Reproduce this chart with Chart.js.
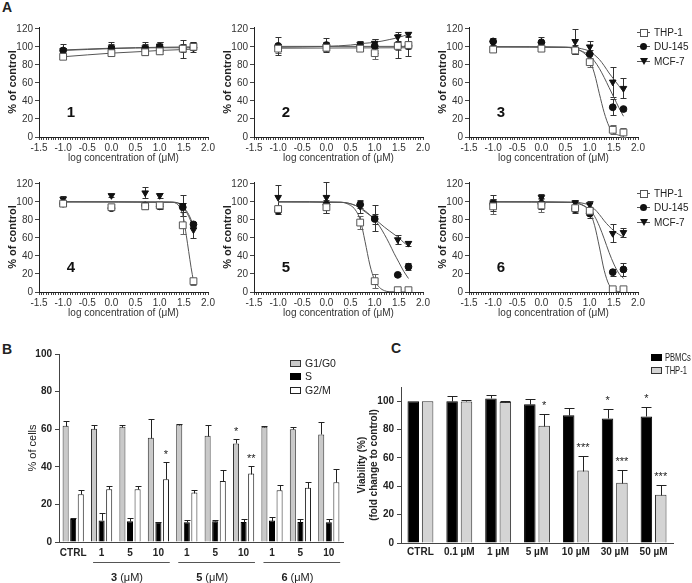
<!DOCTYPE html>
<html><head><meta charset="utf-8">
<script src="https://cdn.jsdelivr.net/npm/chart.js@4.4.1/dist/chart.umd.min.js"></script>
<style>
body{margin:0;background:#fff;width:692px;height:583px;position:relative;overflow:hidden;font-family:"Liberation Sans",Arial,sans-serif;color:#222}
canvas{position:absolute}
.plab{position:absolute;font-weight:bold;font-size:14px;line-height:14px}
.leg{position:absolute;font-size:10.5px;line-height:13px;white-space:nowrap;display:flex;align-items:center}
.sym{position:relative;width:13px;height:13px;margin-right:4px}
.sym .ln{position:absolute;left:0;top:6px;width:13px;height:1px;background:#555}
.sym .mk{position:absolute}
.box{width:11px;height:7px;margin-right:4px;box-sizing:border-box}
.narrow{display:inline-block;transform:scaleX(0.66);transform-origin:left center;font-size:11.5px}
</style></head><body>
<div class="plab" style="left:2px;top:0px">A</div>
<div class="plab" style="left:2px;top:342px">B</div>
<div class="plab" style="left:391px;top:341px">C</div>
<script>
// ---------- Panel A data ----------
const concLog = [-1, 0, 0.699, 1, 1.477, 1.699];
const seriesA = ['THP-1', 'DU-145', 'MCF-7'];

const thp1 = [89, 93, 94, 95, 98, 100];   const thp1Err = [3, 3, 3, 3, 4, 3];
const du1  = [96, 98, 98, 100, 98, 99];   const du1Err  = [7, 7, 7, 5, 10, 5];
const mcf1 = [96, 99, 99, 101, 99, 102];  const mcf1Err = [3, 4, 4, 4, 4, 3];
const thp1Fit = [[-1, 89], [0, 93], [0.7, 95], [1, 96], [1.5, 97], [1.7, 97.5]];
const du1Fit  = [[-1, 96], [0, 98], [1, 99], [1.7, 99]];
const mcf1Fit = [[-1, 96.5], [0, 98.5], [1, 99.5], [1.7, 100]];

const thp2 = [98, 99, 98, 93, 101, 102];  const thp2Err = [5, 4, 3, 6, 4, 4];
const du2  = [101, 102, 101, 101, 101, 101]; const du2Err = [10, 8, 2, 8, 13, 11];
const mcf2 = [99, 101, 103, 104, 111, 114]; const mcf2Err = [4, 4, 3, 5, 5, 3];
const thp2Fit = [[-1, 98.5], [1.7, 99]];
const du2Fit  = [[-1, 100.5], [1.7, 100.5]];
const mcf2Fit = [[-1, 99.5], [0, 100.5], [0.5, 102], [0.8, 104], [1.0, 105], [1.3, 108], [1.5, 110.5], [1.7, 114]];

const thp3 = [97, 98, 96, 83, 8, 5];      const thp3Err = [3, 3, 4, 5, 5, 5];
const du3  = [106, 105, 97, 92, 33, 31];  const du3Err  = [4, 6, 5, 5, 9, 2];
const mcf3 = [104, 103, 106, 100, 61, 54]; const mcf3Err = [3, 3, 14, 7, 17, 11];
const thp3Fit = [[-1, 100], [0.5, 99.5], [0.8, 96], [1.0, 85], [1.1, 70], [1.2, 48], [1.3, 27], [1.4, 12], [1.5, 5], [1.6, 2], [1.7, 1]];
const du3Fit  = [[-1, 100], [0.5, 99.5], [0.8, 96], [1.0, 90], [1.1, 84], [1.2, 76], [1.3, 66], [1.4, 55], [1.5, 44], [1.6, 33], [1.7, 23]];
const mcf3Fit = [[-1, 100], [0.6, 99.5], [0.9, 97], [1.0, 95], [1.1, 91], [1.2, 86], [1.3, 79], [1.4, 71], [1.5, 64], [1.6, 57], [1.7, 50]];

const thp4 = [98, 94, 95, 96, 74, 12];    const thp4Err = [3, 2, 3, 3, 10, 4];
const du4  = [98, 93, 96, 95, 94, 75];    const du4Err  = [2, 2, 4, 3, 5, 3];
const mcf4 = [103, 107, 110, 107, 96, 69]; const mcf4Err = [3, 2, 6, 3, 12, 9];
const thp4Fit = [[-1, 100], [1.2, 99.8], [1.35, 98], [1.45, 90], [1.5, 80], [1.55, 63], [1.6, 45], [1.65, 27], [1.7, 12]];
const du4Fit  = [[-1, 100], [1.3, 99.5], [1.45, 97], [1.5, 94], [1.6, 86], [1.7, 74]];
const mcf4Fit = [[-1, 100], [1.3, 99.5], [1.45, 96], [1.5, 93], [1.6, 84], [1.7, 71]];

const thp5 = [92, 94, 77, 12, 2, 2];      const thp5Err = [3, 6, 7, 8, 1, 1];
const du5  = [90, 97, 97, 81, 19, 28];    const du5Err  = [3, 5, 4, 6, 1, 4];
const mcf5 = [105, 105, 95, 82, 58, 54];  const mcf5Err = [14, 17, 7, 14, 5, 3];
const thp5Fit = [[-1, 100], [0.3, 99.5], [0.5, 96], [0.6, 91], [0.7, 80], [0.8, 56], [0.9, 30], [1.0, 13], [1.1, 5], [1.2, 1.5], [1.3, 0.3], [1.7, 0]];
const du5Fit  = [[-1, 100], [0.3, 99.5], [0.6, 96], [0.8, 90], [1.0, 80], [1.1, 73], [1.2, 64], [1.3, 54], [1.4, 43], [1.5, 33], [1.6, 23], [1.7, 15]];
const mcf5Fit = [[-1, 100], [0.3, 99.5], [0.6, 96], [0.8, 89], [1.0, 81], [1.2, 72], [1.4, 64], [1.5, 60], [1.6, 55], [1.7, 51]];

const thp6 = [95, 96, 93, 90, 3, 3];      const thp6Err = [8, 7, 4, 3, 1, 1];
const du6  = [98, 98, 92, 87, 22, 25];    const du6Err  = [5, 6, 4, 5, 4, 7];
const mcf6 = [99, 105, 99, 97, 65, 66];   const mcf6Err = [9, 4, 3, 4, 10, 5];
const thp6Fit = [[-1, 100], [0.6, 99.5], [0.9, 95], [1.0, 89], [1.1, 74], [1.2, 50], [1.3, 24], [1.4, 8], [1.5, 2], [1.6, 0.5], [1.7, 0]];
const du6Fit  = [[-1, 100], [0.6, 99.5], [0.9, 95], [1.0, 91], [1.1, 84], [1.2, 73], [1.3, 59], [1.4, 44], [1.5, 31], [1.6, 21], [1.7, 15]];
const mcf6Fit = [[-1, 100], [0.7, 99.5], [0.9, 98], [1.0, 96], [1.1, 92], [1.2, 86], [1.3, 79], [1.4, 73], [1.5, 68], [1.6, 64], [1.7, 61]];

const yTicksA = [0, 20, 40, 60, 80, 100, 120];

// ---------- Panel B data ----------
const catsB   = ['CTRL', '1', '5', '10', '1', '5', '10', '1', '5', '10'];
const g1      = [61.8, 60.2, 61.3, 55.4, 62.5, 56.5, 52.4, 61.3, 60.0, 57.2];
const g1Err   = [2.5, 2.3, 1.2, 10.0, 0.3, 5.5, 2.6, 0.5, 1.3, 6.6];
const sPhase  = [12.3, 11.5, 11.0, 10.5, 10.5, 11.0, 10.7, 11.4, 10.7, 10.5];
const sErr    = [0.4, 4.0, 1.8, 0.3, 1.2, 0.9, 1.7, 1.9, 1.7, 1.9];
const g2m     = [25.4, 28.1, 28.1, 33.4, 26.3, 32.5, 36.4, 27.5, 28.8, 31.8];
const g2mErr  = [2.0, 1.7, 1.9, 8.9, 1.2, 6.0, 3.9, 2.7, 3.0, 7.2];
const g1Sig   = ['', '', '', '', '', '', '*', '', '', ''];
const sSig    = ['', '', '', '', '', '', '', '', '', ''];
const g2mSig  = ['', '', '', '*', '', '', '**', '', '', ''];
const groupNamesB = ['3', '5', '6'];
const groupFromB  = [1, 4, 7];
const groupToB    = [3, 6, 9];
const seriesB = ['G1/G0', 'S', 'G2/M'];
const yTicksB = [0, 20, 40, 60, 80, 100];

// ---------- Panel C data ----------
const catsC   = ['CTRL', '0.1 µM', '1 µM', '5 µM', '10 µM', '30 µM', '50 µM'];
const pbmc    = [100, 100, 101.9, 97.9, 90.1, 87.8, 89.2];
const pbmcErr = [0, 3.8, 2.3, 3.5, 4.9, 6.6, 7.0];
const thpC    = [100, 99.8, 99.4, 82.6, 51.1, 42.4, 34.1];
const thpCErr = [0, 0.7, 0.4, 8.7, 10.3, 9.4, 7.1];
const pbmcSig = ['', '', '', '', '', '*', '*'];
const thpCSig = ['', '', '', '*', '***', '***', '***'];
const seriesC = ['PBMCs', 'THP-1'];
const yTicksC = [0, 20, 40, 60, 80, 100];

// ---------- helpers ----------
const F = '"Liberation Sans", Arial, sans-serif';
Chart.defaults.font.family = F;
Chart.defaults.color = '#222';
Chart.defaults.animation = false;

const errorBars = {
  id: 'errorBars',
  beforeDatasetsDraw(chart) { draw(chart, false); },
  afterDatasetsDraw(chart) { draw(chart, true); }
};
function draw(chart, after) {
  const ctx = chart.ctx, ys = chart.scales.y;
  chart.data.datasets.forEach((ds, i) => {
    if (!ds.errors || !!ds.upOnly !== after) return;
    const meta = chart.getDatasetMeta(i);
    ctx.save();
    ctx.strokeStyle = ds.errorColor || '#222';
    ctx.lineWidth = 1;
    meta.data.forEach((el, j) => {
      const e = ds.errors[j];
      if (!e) return;
      const v = ds.data[j];
      const val = (typeof v === 'object') ? v.y : v;
      const x = Math.round(el.x) + 0.5;
      const yt = Math.round(ys.getPixelForValue(val + e)) + 0.5;
      const yb = Math.round(ys.getPixelForValue(ds.upOnly ? val : val - e)) + 0.5;
      const c = (ds.capWidth || 6) / 2;
      ctx.beginPath();
      ctx.moveTo(x, yt); ctx.lineTo(x, yb);
      ctx.moveTo(x - c, yt); ctx.lineTo(x + c, yt);
      if (!ds.upOnly) { ctx.moveTo(x - c, yb); ctx.lineTo(x + c, yb); }
      ctx.stroke();
    });
    ctx.restore();
  });
}

const sigMarks = {
  id: 'sigMarks',
  afterDatasetsDraw(chart, args, opts) {
    const ctx = chart.ctx, ys = chart.scales.y;
    chart.data.datasets.forEach((ds, i) => {
      if (!ds.sig) return;
      const meta = chart.getDatasetMeta(i);
      ctx.save();
      ctx.font = '11px ' + F; ctx.fillStyle = '#222';
      ctx.textAlign = 'center'; ctx.textBaseline = 'alphabetic';
      meta.data.forEach((el, j) => {
        if (!ds.sig[j]) return;
        const top = ys.getPixelForValue(ds.data[j] + (ds.errors[j] || 0));
        ctx.fillText(ds.sig[j], el.x, top - (opts.gap || 4));
      });
      ctx.restore();
    });
  }
};

const panelNum = {
  id: 'panelNum',
  afterDraw(chart, args, opts) {
    if (!opts.text) return;
    const { ctx, chartArea: a } = chart;
    ctx.save();
    ctx.font = 'bold 15px ' + F; ctx.fillStyle = '#111';
    ctx.textAlign = 'center'; ctx.textBaseline = 'middle';
    ctx.fillText(opts.text, a.left + 32, a.bottom - 24);
    ctx.restore();
  }
};

function mkCanvas(l, t, w, h) {
  const c = document.createElement('canvas');
  c.width = w; c.height = h;
  c.style.left = l + 'px'; c.style.top = t + 'px';
  document.body.appendChild(c);
  return c;
}

function panelA(left, top, num, thp, thpE, du, duE, mcf, mcfE, thpF, duF, mcfF) {
  const cv = mkCanvas(left - 39, top - 15, 220, 160);
  const pts = ys => concLog.map((x, i) => ({ x, y: ys[i] }));
  const fit = f => f.map(p => ({ x: p[0], y: p[1] }));
  const fitDs = f => ({ data: fit(f), showLine: true, pointRadius: 0, borderColor: '#555', borderWidth: 1,
                        cubicInterpolationMode: 'monotone', tension: 0.4, fill: false });
  new Chart(cv, {
    type: 'scatter',
    data: { datasets: [
      { data: pts(thp), errors: thpE, errorColor: '#666', pointStyle: 'rect', pointRadius: 4.8,
        backgroundColor: '#fff', borderColor: '#555', borderWidth: 1 },
      { data: pts(du), errors: duE, errorColor: '#333', pointStyle: 'circle', pointRadius: 3.4,
        backgroundColor: '#111', borderColor: '#111', borderWidth: 1 },
      { data: pts(mcf), errors: mcfE, errorColor: '#333', pointStyle: 'triangle', rotation: 180, pointRadius: 3.8,
        backgroundColor: '#111', borderColor: '#111', borderWidth: 1 },
      fitDs(thpF), fitDs(duF), fitDs(mcfF)
    ] },
    options: {
      responsive: false, animation: false,
      layout: { padding: { left: 0, right: 12, top: 15, bottom: 0 } },
      plugins: { legend: { display: false }, tooltip: { enabled: false }, panelNum: { text: num } },
      scales: {
        x: {
          type: 'linear', min: -1.5, max: 2.0,
          afterFit(s) { s.height = 35; },
          afterBuildTicks(s) { const t = []; for (let k = 0; k <= 70; k++) t.push({ value: -1.5 + k * 0.05 }); s.ticks = t; },
          ticks: { autoSkip: false, maxRotation: 0, padding: 2, color: '#333', font: { size: 10 },
                   callback(v) { const r = Math.round(v * 2); return Math.abs(v * 2 - r) < 1e-6 ? (r / 2).toFixed(1) : ''; } },
          grid: { drawOnChartArea: false, tickLength: 3, color: '#444' },
          border: { color: '#222' },
          title: { display: true, text: 'log concentration of (μM)', color: '#333', font: { size: 10 }, padding: { top: 0, bottom: 8 } }
        },
        y: {
          min: 0, max: 122,
          afterFit(s) { s.width = 39; },
          afterBuildTicks(s) { s.ticks = yTicksA.map(v => ({ value: v })); },
          ticks: { color: '#333', font: { size: 10 }, padding: 2 },
          grid: { drawOnChartArea: false, tickLength: 4, color: '#444' },
          border: { color: '#222' },
          title: { display: true, text: '% of control', color: '#222', font: { size: 11, weight: 'bold' }, padding: { top: 6, bottom: 0 } }
        }
      }
    },
    plugins: [errorBars, panelNum]
  });
}

panelA(39, 27, '1', thp1, thp1Err, du1, du1Err, mcf1, mcf1Err, thp1Fit, du1Fit, mcf1Fit);
panelA(254, 27, '2', thp2, thp2Err, du2, du2Err, mcf2, mcf2Err, thp2Fit, du2Fit, mcf2Fit);
panelA(469, 27, '3', thp3, thp3Err, du3, du3Err, mcf3, mcf3Err, thp3Fit, du3Fit, mcf3Fit);
panelA(39, 182, '4', thp4, thp4Err, du4, du4Err, mcf4, mcf4Err, thp4Fit, du4Fit, mcf4Fit);
panelA(254, 182, '5', thp5, thp5Err, du5, du5Err, mcf5, mcf5Err, thp5Fit, du5Fit, mcf5Fit);
panelA(469, 182, '6', thp6, thp6Err, du6, du6Err, mcf6, mcf6Err, thp6Fit, du6Fit, mcf6Fit);

// legends for A
function legendA(top) {
  const marks = [
    'width:6px;height:6px;left:3px;top:3px;background:#fff;border:1px solid #555',
    'width:7px;height:7px;left:3px;top:3px;background:#111;border-radius:50%',
    'width:0;height:0;left:2.5px;top:3px;border-left:4px solid transparent;border-right:4px solid transparent;border-top:7px solid #111'
  ];
  seriesA.forEach((name, i) => {
    const d = document.createElement('div');
    d.className = 'leg';
    d.style.left = '637px'; d.style.top = (top + i * 14.5) + 'px';
    d.style.fontSize = '10px';
    d.innerHTML = '<span class="sym"><span class="ln"></span><span class="mk" style="' + marks[i] + '"></span></span><span>' + name + '</span>';
    document.body.appendChild(d);
  });
}
legendA(25.5);
legendA(186.5);

// ---------- Panel B ----------
const groupsB = {
  id: 'groupsB',
  afterDraw(chart) {
    const { ctx } = chart, xs = chart.scales.x;
    const w = xs.getPixelForValue(1) - xs.getPixelForValue(0);
    ctx.save();
    ctx.strokeStyle = '#555'; ctx.lineWidth = 1;
    groupNamesB.forEach((g, i) => {
      const x0 = xs.getPixelForValue(groupFromB[i]) - 0.3 * w;
      const x1 = xs.getPixelForValue(groupToB[i]) + 0.4 * w;
      const y = 232.5;
      ctx.beginPath(); ctx.moveTo(x0, y); ctx.lineTo(x1, y); ctx.stroke();
      const cx = xs.getPixelForValue((groupFromB[i] + groupToB[i]) / 2) - 3;
      ctx.font = 'bold 11px ' + F;
      const w1 = ctx.measureText(g + ' ').width;
      ctx.font = '11px ' + F;
      const w2 = ctx.measureText('(μM)').width;
      const sx = cx - (w1 + w2) / 2;
      ctx.fillStyle = '#222'; ctx.textBaseline = 'middle'; ctx.textAlign = 'left';
      ctx.font = 'bold 11px ' + F; ctx.fillText(g + ' ', sx, 248);
      ctx.font = '11px ' + F; ctx.fillText('(μM)', sx + w1, 248);
    });
    ctx.restore();
  }
};
const cvB = mkCanvas(0, 330, 355, 253);
new Chart(cvB, {
  type: 'bar',
  data: { labels: catsB, datasets: [
    { label: seriesB[0], data: g1, errors: g1Err, sig: g1Sig, upOnly: true, capWidth: 6, backgroundColor: '#c9c9c9', borderColor: '#333', borderWidth: 1, categoryPercentage: 0.8, barPercentage: 0.8 },
    { label: seriesB[1], data: sPhase, errors: sErr, sig: sSig, upOnly: true, capWidth: 6, backgroundColor: '#000', borderColor: '#000', borderWidth: 1, categoryPercentage: 0.8, barPercentage: 0.8 },
    { label: seriesB[2], data: g2m, errors: g2mErr, sig: g2mSig, upOnly: true, capWidth: 6, backgroundColor: '#fff', borderColor: '#222', borderWidth: 1, categoryPercentage: 0.8, barPercentage: 0.8 }
  ] },
  options: {
    responsive: false, animation: false,
    layout: { padding: { left: 0, right: 12, top: 24, bottom: 0 } },
    plugins: { legend: { display: false }, tooltip: { enabled: false }, sigMarks: { gap: 4 } },
    scales: {
      x: {
        afterFit(s) { s.height = 41; },
        ticks: { color: '#222', font: { size: 10, weight: 'bold' }, padding: 5, maxRotation: 0, autoSkip: false },
        grid: { display: false, drawTicks: false },
        border: { color: '#444' }
      },
      y: {
        min: 0, max: 100,
        afterFit(s) { s.width = 59; },
        afterBuildTicks(s) { s.ticks = yTicksB.map(v => ({ value: v })); },
        ticks: { color: '#222', font: { size: 10, weight: 'bold' }, padding: 3 },
        grid: { drawOnChartArea: false, tickLength: 4, color: '#444' },
        border: { color: '#444' },
        title: { display: true, text: '% of cells', color: '#222', font: { size: 11 }, padding: { top: 26, bottom: 0 } }
      }
    }
  },
  plugins: [errorBars, sigMarks, groupsB]
});
// legend B
const boxStylesB = ['background:#c9c9c9;border:1px solid #333', 'background:#000;border:1px solid #000', 'background:#fff;border:1px solid #222'];
seriesB.forEach((name, i) => {
  const d = document.createElement('div');
  d.className = 'leg';
  d.style.left = '290px'; d.style.top = (356.5 + i * 13.8) + 'px';
  d.innerHTML = '<span class="box" style="' + boxStylesB[i] + '"></span><span>' + name + '</span>';
  document.body.appendChild(d);
});

// ---------- Panel C ----------
const cvC = mkCanvas(340, 330, 352, 253);
new Chart(cvC, {
  type: 'bar',
  data: { labels: catsC, datasets: [
    { label: seriesC[0], data: pbmc, errors: pbmcErr, sig: pbmcSig, upOnly: true, capWidth: 10, backgroundColor: '#000', borderColor: '#000', borderWidth: 1, categoryPercentage: 0.74, barPercentage: 0.8 },
    { label: seriesC[1], data: thpC, errors: thpCErr, sig: thpCSig, upOnly: true, capWidth: 10, backgroundColor: '#d4d4d4', borderColor: '#333', borderWidth: 1, categoryPercentage: 0.74, barPercentage: 0.8 }
  ] },
  options: {
    responsive: false, animation: false,
    layout: { padding: { left: 0, right: 19, top: 57, bottom: 0 } },
    plugins: { legend: { display: false }, tooltip: { enabled: false }, sigMarks: { gap: 5 } },
    scales: {
      x: {
        afterFit(s) { s.height = 40; },
        ticks: { color: '#222', font: { size: 10, weight: 'bold' }, padding: 3, maxRotation: 0, autoSkip: false },
        grid: { display: false, drawTicks: false },
        border: { color: '#444' }
      },
      y: {
        min: 0, max: 110,
        afterFit(s) { s.width = 61; },
        afterBuildTicks(s) { s.ticks = yTicksC.map(v => ({ value: v })); },
        ticks: { color: '#222', font: { size: 10, weight: 'bold' }, padding: 3 },
        grid: { drawOnChartArea: false, tickLength: 4, color: '#444' },
        border: { color: '#444' },
        title: { display: true, text: ['Viability (%)', '(fold change to control)'], color: '#222', font: { size: 10, weight: 'bold' }, padding: { top: 16, bottom: 0 } }
      }
    }
  },
  plugins: [errorBars, sigMarks]
});
// legend C
const boxStylesC = ['background:#000;border:1px solid #000', 'background:#d4d4d4;border:1px solid #333'];
seriesC.forEach((name, i) => {
  const d = document.createElement('div');
  d.className = 'leg';
  d.style.left = '651px'; d.style.top = (350.5 + i * 13) + 'px';
  d.innerHTML = '<span class="box" style="margin-right:3px;' + boxStylesC[i] + '"></span><span class="narrow">' + name + '</span>';
  document.body.appendChild(d);
});
</script>
</body></html>
